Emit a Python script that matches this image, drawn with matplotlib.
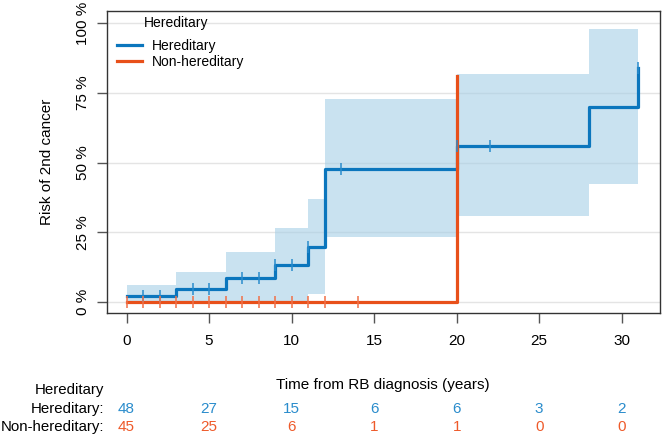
import numpy as np
import matplotlib
matplotlib.use("Agg")
import matplotlib.pyplot as plt
from matplotlib.transforms import blended_transform_factory

plt.rcParams['font.family'] = ['Liberation Sans', 'DejaVu Sans']

# cumulative risk, hereditary group (step function)
her_times = [0, 3, 6, 9, 11, 12, 20, 28, 31]
her_risk = [0.021, 0.045, 0.085, 0.134, 0.198, 0.477, 0.561, 0.700, 0.838]
her_lower = [0.0, 0.0, 0.0, 0.0, 0.029, 0.234, 0.310, 0.423]
her_upper = [0.061, 0.108, 0.180, 0.267, 0.370, 0.728, 0.818, 0.979]
her_censor = [1, 2, 4, 5, 7, 8, 9, 10, 11, 13, 20, 22, 31]

# non-hereditary group
non_times = [0, 20]
non_risk = [0.0, 0.811]
non_censor = [0, 1, 2, 3, 4, 5, 6, 7, 8, 9, 10, 11, 12, 14]

# numbers at risk
table_times = [0, 5, 10, 15, 20, 25, 30]
her_at_risk = [48, 27, 15, 6, 6, 3, 2]
non_at_risk = [45, 25, 6, 1, 1, 0, 0]

blue = '#0b76bd'
red = '#e8501a'


def step_value(times, risk, t):
    i = np.searchsorted(times, t, side='right') - 1
    return risk[i]


fig = plt.figure(figsize=(6.63, 4.37), dpi=100)
ax = fig.add_axes([0.161, 0.284, 0.834, 0.691])

# confidence band
for i in range(len(her_lower)):
    ax.fill_between([her_times[i], her_times[i + 1]], her_lower[i], her_upper[i],
                    color='#a6cfe6', alpha=0.6, lw=0, zorder=1)

ax.step(her_times, her_risk, where='post', color=blue, lw=2.3, zorder=3,
        label='Hereditary')
ax.step(non_times, non_risk, where='post', color=red, lw=2.3, zorder=4,
        label='Non-hereditary')

hc = [step_value(her_times, her_risk, t) for t in her_censor]
ax.plot(her_censor, hc, ls='none', marker='|', ms=9, mew=1.1, color='#2a8ccc', zorder=5)
nc = [step_value(non_times, non_risk, t) for t in non_censor]
ax.plot(non_censor, nc, ls='none', marker='|', ms=9, mew=1.1, color='#f07048', zorder=5)

ax.set_xlim(-1.2, 32.3)
ax.set_ylim(-0.039, 1.044)
ax.set_xticks(table_times)
ax.set_yticks([0, 0.25, 0.5, 0.75, 1.0])
ax.set_yticklabels(['0 %', '25 %', '50 %', '75 %', '100 %'], rotation=90, va='center')
ax.tick_params(axis='both', labelsize=11, length=7, width=1, color='#555555')
ax.tick_params(axis='y', pad=5)
ax.tick_params(axis='x', pad=8)
ax.grid(axis='y', color='#e4e4e4', lw=1, zorder=0)
ax.set_axisbelow(True)
for s in ax.spines.values():
    s.set_color('#333333')
    s.set_linewidth(1)

ax.set_xlabel('Time from RB diagnosis (years)', fontsize=11, labelpad=22)
ax.set_ylabel('Risk of 2nd cancer', fontsize=11, labelpad=16)

# legend, with its title as separate text
ax.legend(loc='upper left', frameon=False, fontsize=10, handlelength=1.8,
          handletextpad=0.7, borderpad=0.4, borderaxespad=0.0, labelspacing=0.2,
          bbox_to_anchor=(0.008, 0.927))
ax.text(0.125, 0.960, 'Hereditary', transform=ax.transAxes, ha='center',
        va='center', fontsize=10)

# risk table
tr = blended_transform_factory(ax.transData, fig.transFigure)
fig.text(0.157, 1 - 390 / 437, 'Hereditary', ha='right', va='center', fontsize=10.8)
fig.text(0.157, 1 - 409 / 437, 'Hereditary:', ha='right', va='center', fontsize=10.8)
fig.text(0.157, 1 - 427 / 437, 'Non-hereditary:', ha='right', va='center', fontsize=10.8)
for t, h, n in zip(table_times, her_at_risk, non_at_risk):
    ax.text(t, 1 - 409 / 437, str(h), transform=tr, ha='center', va='center',
            fontsize=11, color='#2a8ccc')
    ax.text(t, 1 - 427 / 437, str(n), transform=tr, ha='center', va='center',
            fontsize=11, color='#ee5a2a')

fig.savefig('out.png', dpi=100)
